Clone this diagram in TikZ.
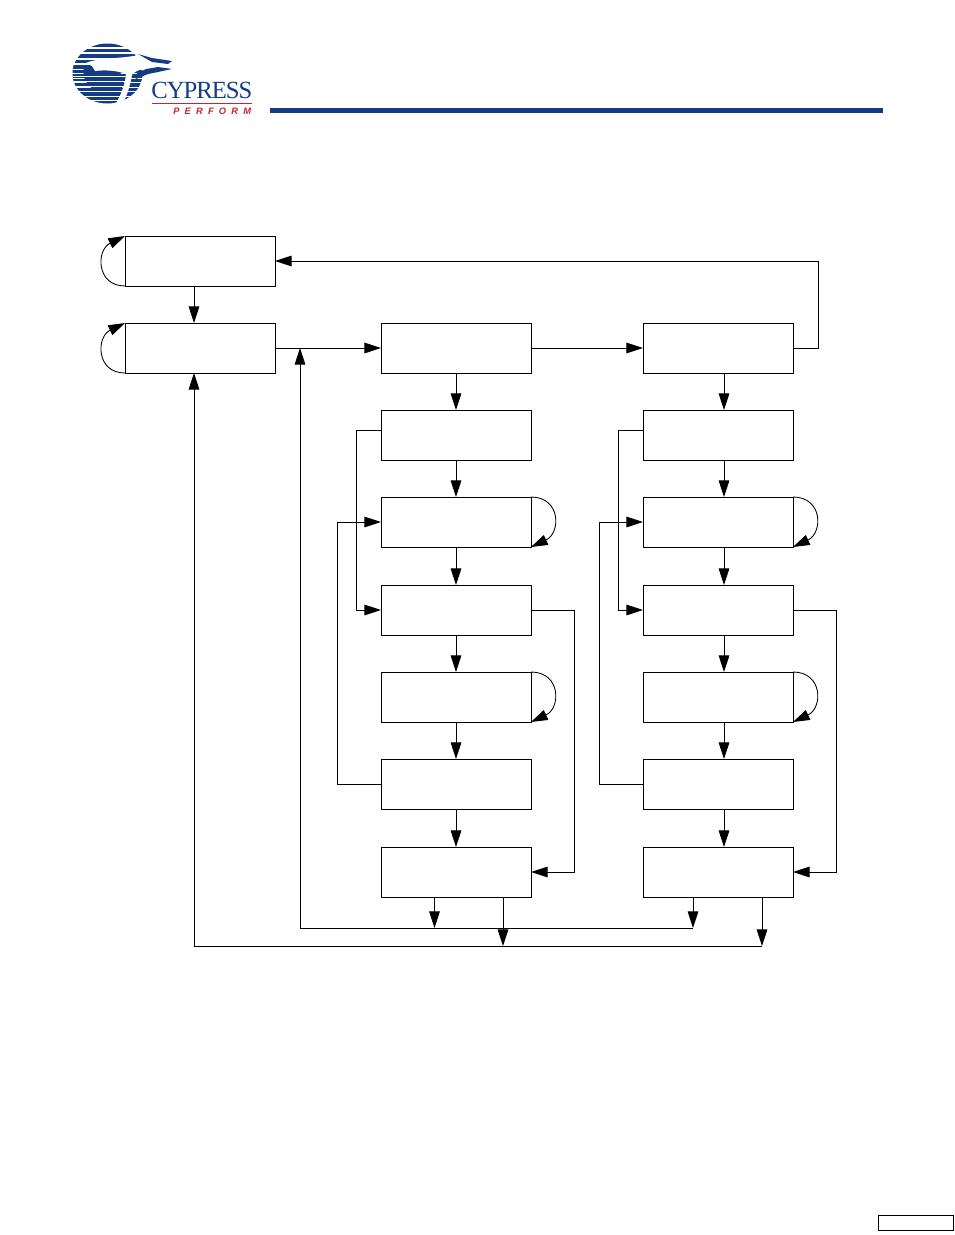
\documentclass[tikz,border=0pt]{standalone}
\usepackage{fontspec}
\setmainfont{Liberation Serif}
\newfontfamily\perf{Liberation Sans}
\usetikzlibrary{arrows.meta,calc}
\definecolor{cyblue}{RGB}{20,60,130}
\definecolor{cyred}{RGB}{190,40,50}
\tikzset{
  x=0.75pt,y=-0.75pt,
  stbox/.style={draw=black,line width=0.65pt,minimum width=112.5pt,minimum height=37.5pt,inner sep=0pt,outer sep=0pt,anchor=north west},
  arr/.style={draw=black,line width=0.65pt,-{Triangle[length=12.5pt,width=8pt,fill=black]}},
}
\begin{document}
\begin{tikzpicture}
\useasboundingbox (0,0) rectangle (954,1235);
% logo
\begin{scope}
\clip (107.5,73.5) ellipse [x radius=35,y radius=30];
\foreach \yy in {45,50.5,...,67}{
  \fill[cyblue] (70,\yy-1.8) rectangle (146,\yy+1.8);
}
\foreach \yy in {67,71.5,...,106}{
  \fill[cyblue] (70,\yy-1.8) rectangle (146,\yy+1.8);
}
\fill[cyblue] (84,66) .. controls (80,80) and (92,96) .. (118,98) -- (126,78) -- (112,66) -- cycle;
\foreach \yy in {76,81,86,91,96}{
  \fill[white] (70,\yy-.45) rectangle (126,\yy+.45);
}
\end{scope}
% bird silhouette
\fill[white] (86,63) .. controls (96,58) and (118,59) .. (140,55) -- (152,60) -- (168,62) -- (158,67) -- (146,68) .. controls (138,70) and (134,72) .. (132,75) .. controls (130,86) and (127,96) .. (122,105) -- (115,105) .. controls (121,95) and (125,85) .. (126,74) .. controls (116,70) and (104,70) .. (95,71) -- (92,66) -- cycle;
\fill[cyblue] (138,54) -- (152,58) -- (172,61) -- (168,64) -- (152,62) -- cycle;
\fill[cyblue] (146,69) -- (158,67) -- (172,69) -- (158,72) -- (148,74) -- (136,79) -- (134,75) -- cycle;
\node[anchor=west,inner sep=0pt,text=cyblue,font=\fontsize{18.5}{18.5}\selectfont] (lg) at (151,90) {\addfontfeature{LetterSpace=-4}CYPRESS};
\draw[cyred,line width=0.4pt] (152,103.5) -- (252,103.5);
\node[anchor=west,inner sep=0pt,text=cyred,font=\perf\bfseries\itshape\fontsize{7}{7}\selectfont] (pf) at (173,111) {P\hspace{3.9pt}E\hspace{3.9pt}R\hspace{3.9pt}F\hspace{3.9pt}O\hspace{3.9pt}R\hspace{3.9pt}M};
\fill[cyblue] (270,108) rectangle (883,113);
% boxes
\node[stbox] (s0) at (125,236) {};
\node[stbox] (s1) at (125,323) {};
\foreach \n/\x in {a/381,b/643}{
  \node[stbox] (\n1) at (\x,323) {};
  \node[stbox] (\n2) at (\x,410) {};
  \node[stbox] (\n3) at (\x,497) {};
  \node[stbox] (\n4) at (\x,585) {};
  \node[stbox] (\n5) at (\x,672) {};
  \node[stbox] (\n6) at (\x,759) {};
  \node[stbox] (\n7) at (\x,847) {};
}
\node[draw=black,line width=1pt,minimum width=56.25pt,minimum height=11.25pt,inner sep=0pt,anchor=north west] (pg) at (877.5,1214.5) {};
% vertical guides
\coordinate (xs) at (194,0);
\coordinate (xa) at (456,0);
\coordinate (xb) at (724,0);
\draw[arr] (s0.south -| xs) -- (s1.north -| xs);
\foreach \i/\j in {1/2,2/3,3/4,4/5,5/6,6/7}{
  \draw[arr] (a\i.south -| xa) -- (a\j.north -| xa);
  \draw[arr] (b\i.south -| xb) -- (b\j.north -| xb);
}
% horizontal
\draw[arr] (s1.east) -- (a1.west);
\draw[arr] (a1.east) -- (b1.west);
\coordinate (tr) at (818,0);
\draw[arr] (b1.east) -- (b1.east -| tr) -- (s0.east -| tr) -- (s0.east);
% self loops
\draw[arr] (s0.south west) .. controls +(-29,0) and +(-29,14) .. (s0.north west);
\draw[arr] (s1.south west) .. controls +(-29,0) and +(-29,14) .. (s1.north west);
\foreach \n in {a,b}{
  \foreach \k in {3,5}{
    \draw[arr] (\n\k.north east) .. controls +(30,0) and +(30,-14) .. (\n\k.south east);
  }
}
% column side routes
\foreach \n/\xl/\xo/\xr in {a/356/337/574,b/618/599/836}{
  \coordinate (p\n) at (\xl,0);
  \coordinate (q\n) at (\xo,0);
  \coordinate (r\n) at (\xr,0);
  \coordinate (o2\n) at ($(\n2.west)+(0,-5)$);
  \draw[arr] (o2\n) -- (o2\n -| p\n) -- (\n4.west -| p\n) -- (\n4.west);
  \draw[arr] (\n6.west) -- (\n6.west -| q\n) -- (\n3.west -| q\n) -- (\n3.west);
  \draw[arr] (\n4.east) -- (\n4.east -| r\n) -- (\n7.east -| r\n) -- (\n7.east);
}
% bottom
\coordinate (y1) at (0,928);
\coordinate (y2) at (0,946);
\coordinate (a1x) at (434.5,0);
\coordinate (a2x) at (503,0);
\coordinate (b1x) at (693,0);
\coordinate (b2x) at (762,0);
\coordinate (ret) at (300,0);
\draw[arr] (a7.south -| a1x) -- (y1 -| a1x);
\draw[arr] (b7.south -| b1x) -- (y1 -| b1x);
\draw[arr] (a7.south -| a2x) -- (y2 -| a2x);
\draw[arr] (b7.south -| b2x) -- (y2 -| b2x);
\draw[arr] (y1 -| b1x) -- (y1 -| ret) -- (s1.east -| ret);
\draw[arr] (y2 -| b2x) -- (y2 -| xs) -- (s1.south -| xs);
\end{tikzpicture}
\end{document}
